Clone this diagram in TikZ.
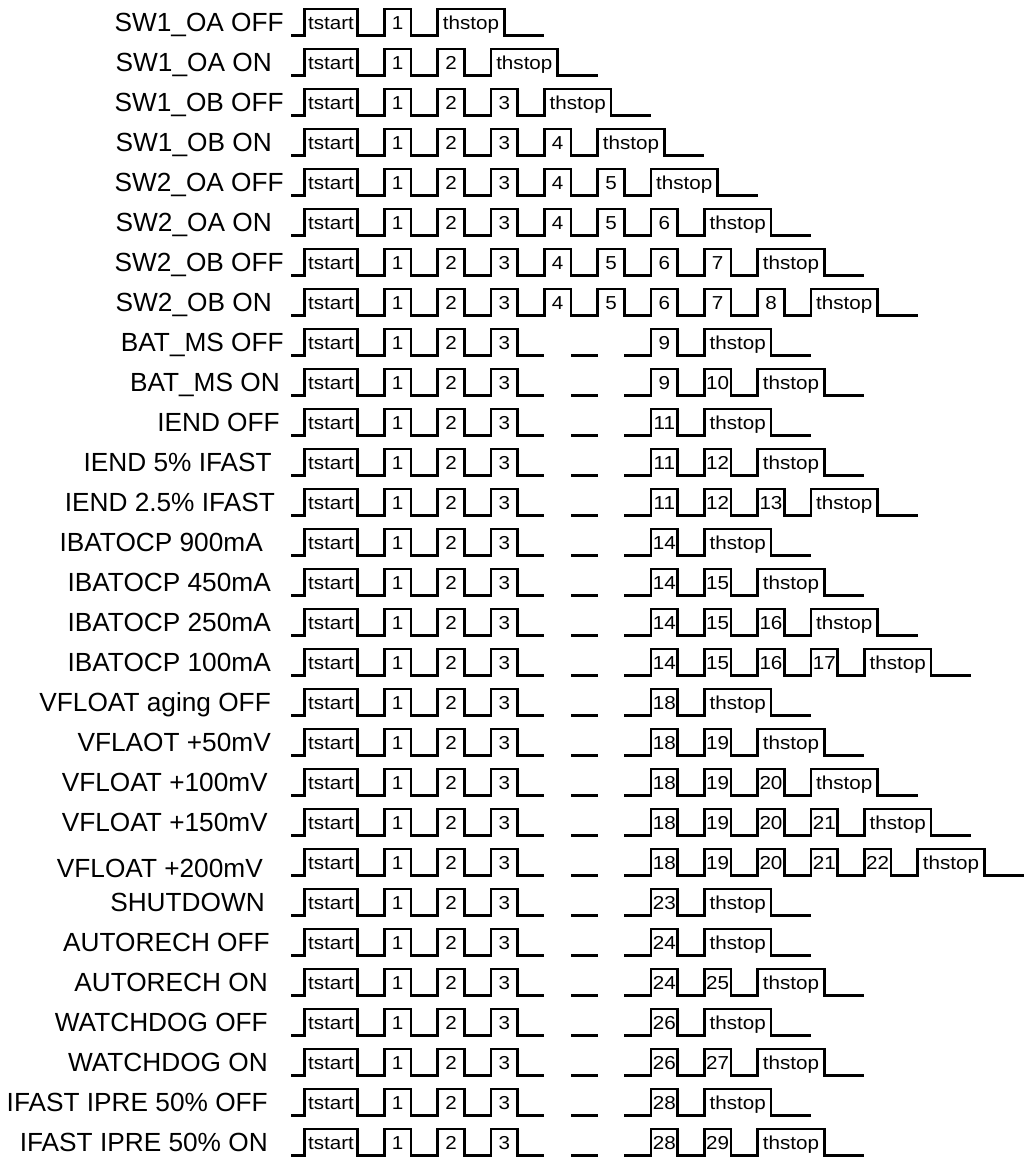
\documentclass[tikz,border=0pt]{standalone}
\usepackage{fontspec}
\setmainfont{Liberation Sans}
\newfontfamily\pulsefont[FakeStretch=1.1]{Liberation Sans}
\usetikzlibrary{positioning, calc}

\begin{document}
\begin{tikzpicture}[
        x=0.4cm, y=0.4cm,
        wave/.style={line width=2.3pt},
        sig/.style={font=\fontsize{22.4}{26}\selectfont, anchor=base east, inner sep=0pt},
        tick/.style={font=\pulsefont\fontsize{16}{18}\selectfont, anchor=base, inner sep=0pt, midway, yshift=-0.62cm},
        sighead/.style={insert path={-- ++(1,0) -- ++(0,2) -- ++(4,0) node[tick]{tstart} -- ++(0,-2) -- ++(2,0)}},
        pulse/.style={insert path={-- ++(0,2) -- ++(2,0) node[tick]{#1} -- ++(0,-2) -- ++(2,0)}},
        gapslot/.style={insert path={++(2,0) -- ++(2,0)}},
        sigtail/.style={insert path={-- ++(0,2) -- ++(5,0) node[tick]{thstop} -- ++(0,-2) -- ++(3,0)}}
    ]
    \useasboundingbox (-21.83,-84.11) rectangle (55.06,2.675);

    % --- Switch rows ---
    \node[sig] (sw1_oa_off) at (-0.53,0.3) {SW1\_OA OFF};
    \draw[wave] (0,0) [sighead, pulse=1, sigtail];
    \node[sig] (sw1_oa_on) at (-1.43,-2.7) {SW1\_OA ON};
    \draw[wave] (0,-3) [sighead, pulse=1, pulse=2, sigtail];
    \node[sig] (sw1_ob_off) at (-0.53,-5.7) {SW1\_OB OFF};
    \draw[wave] (0,-6) [sighead, pulse=1, pulse=2, pulse=3, sigtail];
    \node[sig] (sw1_ob_on) at (-1.43,-8.7) {SW1\_OB ON};
    \draw[wave] (0,-9) [sighead, pulse=1, pulse=2, pulse=3, pulse=4, sigtail];
    \node[sig] (sw2_oa_off) at (-0.53,-11.7) {SW2\_OA OFF};
    \draw[wave] (0,-12) [sighead, pulse=1, pulse=2, pulse=3, pulse=4, pulse=5, sigtail];
    \node[sig] (sw2_oa_on) at (-1.43,-14.7) {SW2\_OA ON};
    \draw[wave] (0,-15) [sighead, pulse=1, pulse=2, pulse=3, pulse=4, pulse=5, pulse=6, sigtail];
    \node[sig] (sw2_ob_off) at (-0.53,-17.7) {SW2\_OB OFF};
    \draw[wave] (0,-18) [sighead, pulse=1, pulse=2, pulse=3, pulse=4, pulse=5, pulse=6, pulse=7, sigtail];
    \node[sig] (sw2_ob_on) at (-1.43,-20.7) {SW2\_OB ON};
    \draw[wave] (0,-21) [sighead, pulse=1, pulse=2, pulse=3, pulse=4, pulse=5, pulse=6, pulse=7, pulse=8, sigtail];

    % --- Battery / termination rows ---
    \node[sig] (bat_ms_off) at (-0.53,-23.7) {BAT\_MS OFF};
    \draw[wave] (0,-24) [sighead, pulse=1, pulse=2, pulse=3, gapslot, gapslot, pulse=9, sigtail];
    \node[sig] (bat_ms_on) at (-0.83,-26.7) {BAT\_MS ON};
    \draw[wave] (0,-27) [sighead, pulse=1, pulse=2, pulse=3, gapslot, gapslot, pulse=9, pulse=10, sigtail];
    \node[sig] (iend_off) at (-0.83,-29.7) {IEND OFF};
    \draw[wave] (0,-30) [sighead, pulse=1, pulse=2, pulse=3, gapslot, gapslot, pulse=11, sigtail];
    \node[sig] (iend_5) at (-1.43,-32.7) {IEND 5\% IFAST};
    \draw[wave] (0,-33) [sighead, pulse=1, pulse=2, pulse=3, gapslot, gapslot, pulse=11, pulse=12, sigtail];
    \node[sig] (iend_25) at (-1.2,-35.7) {IEND 2.5\% IFAST};
    \draw[wave] (0,-36) [sighead, pulse=1, pulse=2, pulse=3, gapslot, gapslot, pulse=11, pulse=12, pulse=13, sigtail];

    % --- Over-current rows ---
    \node[sig] (ocp_900) at (-2.1,-38.7) {IBATOCP 900mA};
    \draw[wave] (0,-39) [sighead, pulse=1, pulse=2, pulse=3, gapslot, gapslot, pulse=14, sigtail];
    \node[sig] (ocp_450) at (-1.5,-41.7) {IBATOCP 450mA};
    \draw[wave] (0,-42) [sighead, pulse=1, pulse=2, pulse=3, gapslot, gapslot, pulse=14, pulse=15, sigtail];
    \node[sig] (ocp_250) at (-1.5,-44.7) {IBATOCP 250mA};
    \draw[wave] (0,-45) [sighead, pulse=1, pulse=2, pulse=3, gapslot, gapslot, pulse=14, pulse=15, pulse=16, sigtail];
    \node[sig] (ocp_100) at (-1.5,-47.7) {IBATOCP 100mA};
    \draw[wave] (0,-48) [sighead, pulse=1, pulse=2, pulse=3, gapslot, gapslot, pulse=14, pulse=15, pulse=16, pulse=17, sigtail];

    % --- Float voltage rows ---
    \node[sig] (vf_off) at (-1.5,-50.7) {VFLOAT aging OFF};
    \draw[wave] (0,-51) [sighead, pulse=1, pulse=2, pulse=3, gapslot, gapslot, pulse=18, sigtail];
    \node[sig] (vf_50) at (-1.5,-53.7) {VFLAOT +50mV};
    \draw[wave] (0,-54) [sighead, pulse=1, pulse=2, pulse=3, gapslot, gapslot, pulse=18, pulse=19, sigtail];
    \node[sig] (vf_100) at (-1.73,-56.7) {VFLOAT +100mV};
    \draw[wave] (0,-57) [sighead, pulse=1, pulse=2, pulse=3, gapslot, gapslot, pulse=18, pulse=19, pulse=20, sigtail];
    \node[sig] (vf_150) at (-1.73,-59.7) {VFLOAT +150mV};
    \draw[wave] (0,-60) [sighead, pulse=1, pulse=2, pulse=3, gapslot, gapslot, pulse=18, pulse=19, pulse=20, pulse=21, sigtail];
    \node[sig] (vf_200) at (-2.1,-63.15) {VFLOAT +200mV};
    \draw[wave] (0,-63) [sighead, pulse=1, pulse=2, pulse=3, gapslot, gapslot, pulse=18, pulse=19, pulse=20, pulse=21, pulse=22, sigtail];

    % --- Remaining control rows ---
    \node[sig] (shutdown) at (-1.95,-65.7) {SHUTDOWN};
    \draw[wave] (0,-66) [sighead, pulse=1, pulse=2, pulse=3, gapslot, gapslot, pulse=23, sigtail];
    \node[sig] (autorech_off) at (-1.58,-68.7) {AUTORECH OFF};
    \draw[wave] (0,-69) [sighead, pulse=1, pulse=2, pulse=3, gapslot, gapslot, pulse=24, sigtail];
    \node[sig] (autorech_on) at (-1.73,-71.7) {AUTORECH ON};
    \draw[wave] (0,-72) [sighead, pulse=1, pulse=2, pulse=3, gapslot, gapslot, pulse=24, pulse=25, sigtail];
    \node[sig] (wdog_off) at (-1.73,-74.7) {WATCHDOG OFF};
    \draw[wave] (0,-75) [sighead, pulse=1, pulse=2, pulse=3, gapslot, gapslot, pulse=26, sigtail];
    \node[sig] (wdog_on) at (-1.73,-77.7) {WATCHDOG ON};
    \draw[wave] (0,-78) [sighead, pulse=1, pulse=2, pulse=3, gapslot, gapslot, pulse=26, pulse=27, sigtail];
    \node[sig] (ipre_off) at (-1.73,-80.7) {IFAST IPRE 50\% OFF};
    \draw[wave] (0,-81) [sighead, pulse=1, pulse=2, pulse=3, gapslot, gapslot, pulse=28, sigtail];
    \node[sig] (ipre_on) at (-1.73,-83.7) {IFAST IPRE 50\% ON};
    \draw[wave] (0,-84) [sighead, pulse=1, pulse=2, pulse=3, gapslot, gapslot, pulse=28, pulse=29, sigtail];

\end{tikzpicture}
\end{document}
